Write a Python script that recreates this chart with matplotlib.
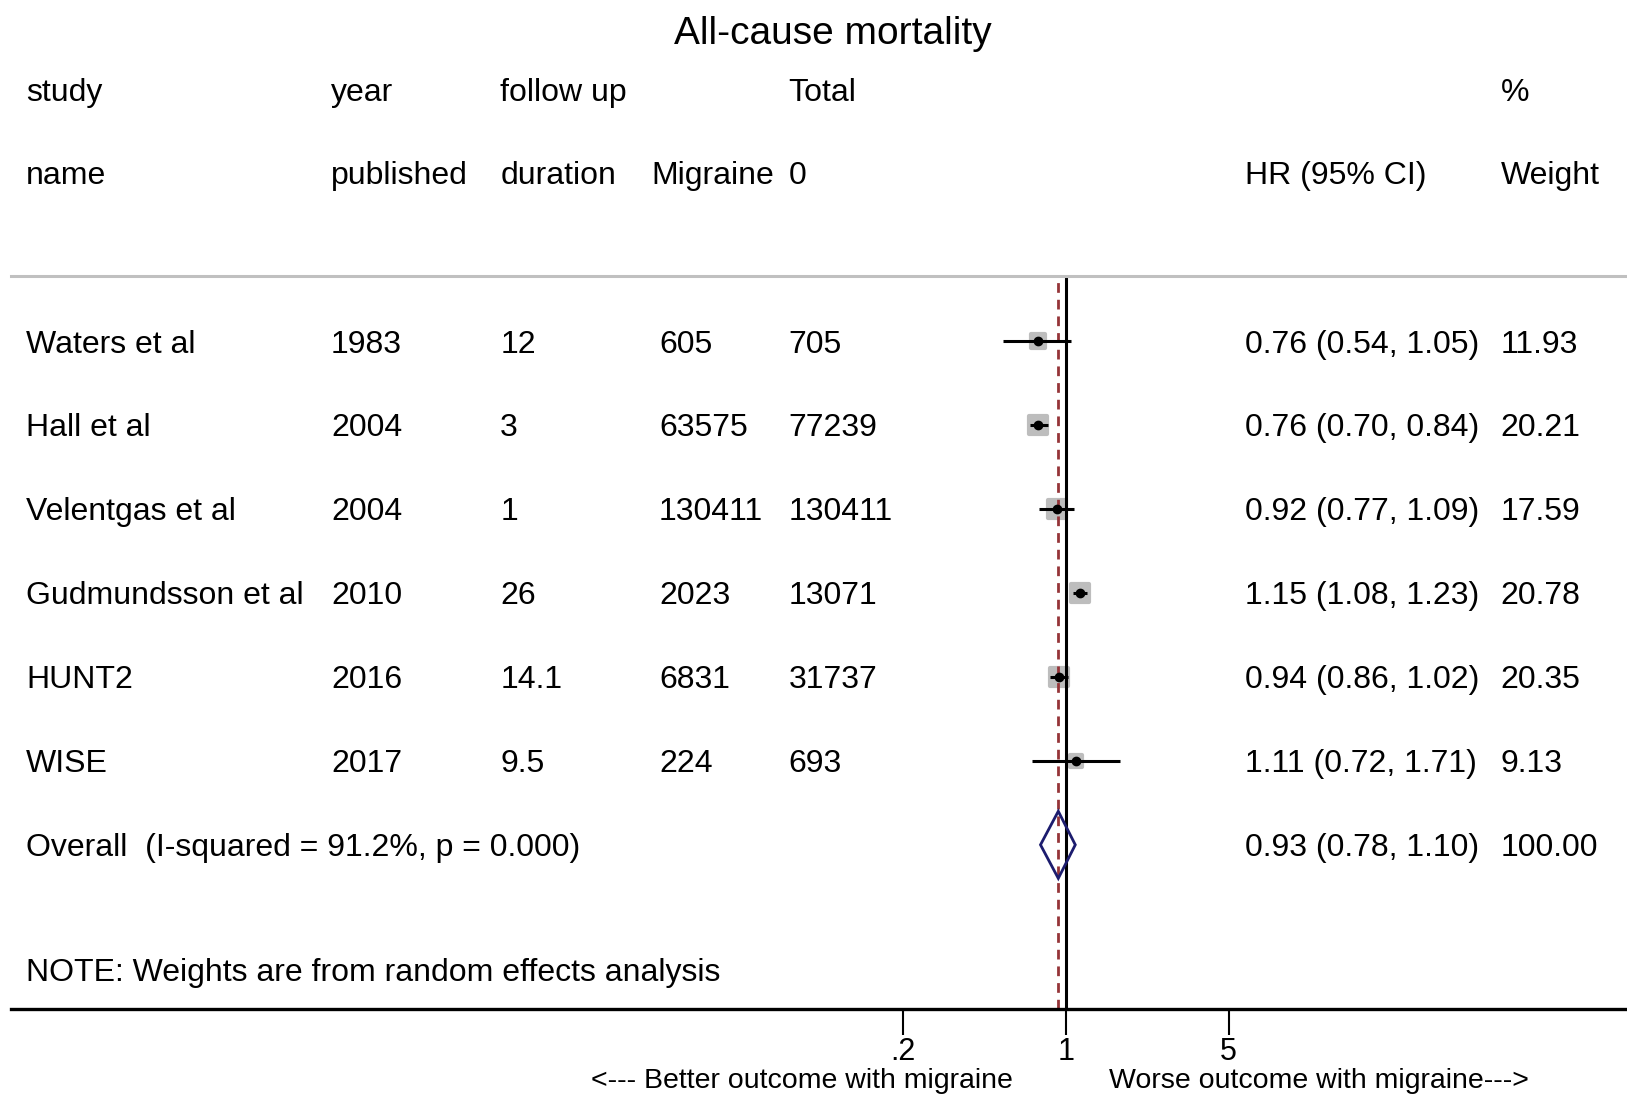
import numpy as np
import matplotlib.pyplot as plt
from matplotlib.patches import Polygon
from matplotlib.markers import MarkerStyle
from matplotlib.transforms import blended_transform_factory

plt.rcParams['font.family'] = ['Liberation Sans', 'DejaVu Sans']

# data
studies = ["Waters et al", "Hall et al", "Velentgas et al", "Gudmundsson et al", "HUNT2", "WISE"]
years = ["1983", "2004", "2004", "2010", "2016", "2017"]
follow_up = ["12", "3", "1", "26", "14.1", "9.5"]
n_migraine = ["605", "63575", "130411", "2023", "6831", "224"]
n_total = ["705", "77239", "130411", "13071", "31737", "693"]
hr = [0.76, 0.76, 0.92, 1.15, 0.94, 1.11]
hr_lo = [0.54, 0.70, 0.77, 1.08, 0.86, 0.72]
hr_hi = [1.05, 0.84, 1.09, 1.23, 1.02, 1.71]
weights = [11.93, 20.21, 17.59, 20.78, 20.35, 9.13]
overall = [0.93, 0.78, 1.10]
overall_weight = 100.00
i_squared = 91.2
p_het = 0.000
ticks = [0.2, 1, 5]
tick_labels = [".2", "1", "5"]

# reference picture is 1568 x 1057 (display px), map to fractions
W, H = 1568, 1057
def fx(p):
    return p / W

fig = plt.figure(figsize=(16.27, 10.97), dpi=100)
ax = fig.add_axes([fx(11), 1 - 972 / H, 1 - fx(11), (972 - 266) / H])

# log axis: 1 at px 1027, one decade = 224.6 px
dec = 224.6
ax.set_xscale('log')
ax.set_xlim(10 ** ((11 - 1027) / dec), 10 ** ((1568 - 1027) / dec))
row0, step = 329, (814 - 329) / 6
def ry(p):
    return (p - row0) / step
ax.set_ylim(ry(972), ry(266))

for s in ['left', 'right']:
    ax.spines[s].set_visible(False)
ax.spines['top'].set_color('#c0c0c0')
ax.spines['top'].set_linewidth(2.2)
ax.spines['bottom'].set_linewidth(2.4)
ax.set_yticks([])
ax.set_xticks(ticks)
ax.set_xticklabels(tick_labels, fontsize=22)
ax.minorticks_off()
ax.tick_params(axis='x', length=19, width=1.5, pad=1.5)

# reference lines
ax.axvline(1, color='black', lw=2.2, zorder=2)
ax.axvline(overall[0], color='#953438', lw=2, ls=(0, (3.5, 2.5)), zorder=2)

box = MarkerStyle('s', joinstyle='round')
ys = np.arange(len(studies))
for i in range(len(studies)):
    side = 2.95 * np.sqrt(weights[i])
    ax.plot(hr[i], ys[i], marker=box, ms=side, mfc='#bdbdbd', mec='#bdbdbd',
            mew=3, zorder=1)
    ax.plot([hr_lo[i], hr_hi[i]], [ys[i], ys[i]], color='black', lw=2.2,
            solid_capstyle='butt', zorder=3)
    ax.plot(hr[i], ys[i], marker='o', ms=6, color='black', zorder=4)

yo = len(studies)
dia = Polygon([[overall[1], yo], [overall[0], yo - 0.4], [overall[2], yo],
               [overall[0], yo + 0.4]], closed=True, fill=False,
              edgecolor='#1c1c6e', lw=2, zorder=5)
ax.add_patch(dia)

# text columns
tr = blended_transform_factory(fig.transFigure, ax.transData)
fs = 23
off = 3 / step
def put(px, y, s, **kw):
    kw.setdefault('fontsize', fs)
    ax.text(fx(px), y + off, s, transform=tr, va='center',
            clip_on=False, **kw)

h1, h2 = ry(87), ry(167)
put(25, h1, "study")
put(25, h2, "name")
put(319, h1, "year")
put(319, h2, "published")
put(482, h1, "follow up")
put(482, h2, "duration")
put(760, h1, "Total")
put(628, h2, "Migraine")
put(760, h2, "0")
put(1200, h2, "HR (95% CI)")
put(1446, h1, "%")
put(1446, h2, "Weight")

for i in range(len(studies)):
    put(25, ys[i], studies[i])
    put(319, ys[i], years[i])
    put(482, ys[i], follow_up[i])
    put(635, ys[i], n_migraine[i])
    put(760, ys[i], n_total[i])
    put(1200, ys[i], f"{hr[i]:.2f} ({hr_lo[i]:.2f}, {hr_hi[i]:.2f})")
    put(1446, ys[i], f"{weights[i]:.2f}")

put(25, yo, f"Overall  (I-squared = {i_squared:.1f}%, p = {p_het:.3f})")
put(1200, yo, f"{overall[0]:.2f} ({overall[1]:.2f}, {overall[2]:.2f})")
put(1446, yo, f"{overall_weight:.2f}")
put(25, ry(935), "NOTE: Weights are from random effects analysis")

put(803, ry(30), "All-cause mortality", fontsize=28, ha='center')

put(976, ry(1039), "<--- Better outcome with migraine", ha='right', fontsize=20.5)
put(1069, ry(1039), "Worse outcome with migraine--->", ha='left', fontsize=20.5)

plt.savefig("out.png", dpi=100)
